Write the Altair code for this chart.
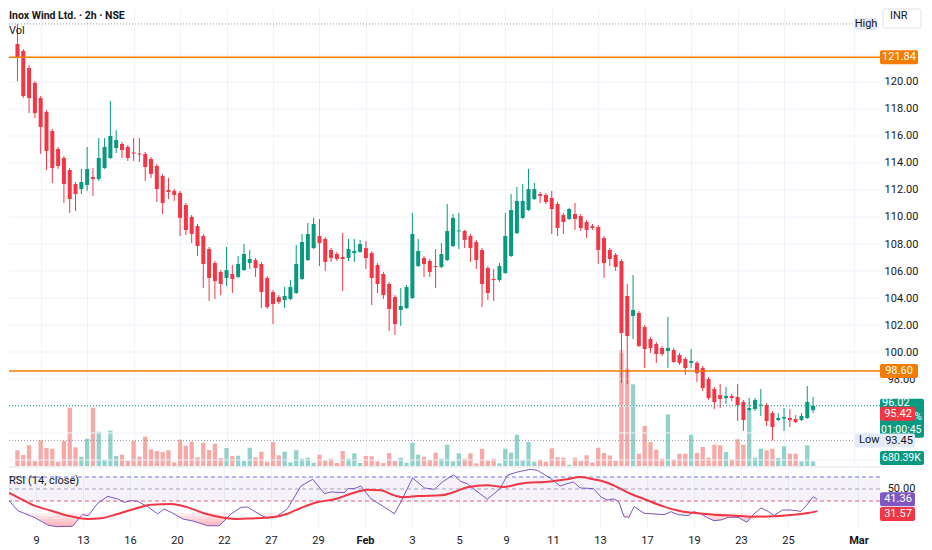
import altair as alt
import pandas as pd

# ---------------- data ----------------
candle_idx = list(range(-4, 134))  # 2h candles, 0 = 9 Jan 09:15

opens = [122.81, 122.30, 121.04, 119.93,
         118.81, 117.78, 116.37, 115.04, 114.37, 113.48, 112.44, 112.07, 112.37, 112.96,
         112.81, 113.63, 114.37, 115.11, 115.41, 115.19, 114.78, 114.70, 114.67, 114.30,
         113.78, 113.04, 112.00, 111.93, 111.78, 110.89, 110.00, 109.33, 108.59, 107.63,
         106.59, 105.93, 105.48, 105.78, 105.56, 106.07, 106.59, 106.81, 106.52, 105.48,
         104.44, 104.07, 103.85, 103.93, 104.37, 105.41, 106.81, 107.70, 108.59, 108.37,
         107.56, 107.26, 107.04, 106.96, 107.33, 107.41, 107.70, 107.33, 106.44, 105.78,
         105.04, 104.07, 103.11, 103.26, 104.00, 106.37, 106.96, 106.74, 106.37, 106.30,
         106.81, 107.85, 108.93, 108.96, 108.59, 108.15, 107.56, 106.22, 105.41, 105.33,
         105.85, 107.11, 108.81, 109.93, 110.52, 111.33, 111.70, 111.63, 111.41, 110.96,
         110.15, 109.85, 110.22, 110.07, 109.63, 109.33, 109.26, 108.44, 107.56, 107.19,
         106.74, 104.15, 102.67, 102.89, 101.85, 100.96, 100.59, 100.30, 100.07, 100.15,
         99.78, 99.48, 99.19, 99.19, 98.81, 98.00, 97.26, 96.81, 96.59, 96.74,
         96.67, 96.30, 95.70, 95.78, 96.04, 96.07, 95.48, 94.96, 95.07, 95.11,
         95.04, 94.96, 95.11, 95.70]

highs = [124.30, 122.44, 121.26, 120.07,
         118.96, 117.93, 116.52, 115.19, 114.52, 113.63, 112.59, 113.56, 115.19, 113.63,
         115.85, 115.85, 118.59, 116.44, 115.56, 115.33, 115.85, 115.85, 114.81, 114.44,
         113.93, 113.19, 112.89, 112.07, 111.93, 111.04, 110.15, 109.48, 108.74, 107.78,
         106.74, 106.07, 107.78, 106.44, 107.11, 108.00, 107.56, 106.96, 106.67, 105.63,
         104.59, 104.22, 104.81, 105.33, 107.93, 108.74, 109.56, 109.93, 109.85, 108.52,
         107.70, 107.41, 108.81, 108.37, 108.37, 108.30, 108.22, 107.48, 106.59, 105.93,
         105.19, 104.22, 104.74, 104.96, 110.30, 108.37, 107.11, 106.89, 107.63, 108.07,
         110.96, 110.22, 110.30, 109.04, 108.74, 108.30, 107.70, 106.37, 106.15, 106.59,
         110.30, 111.70, 112.22, 112.44, 113.56, 112.52, 111.85, 111.78, 111.93, 111.11,
         110.30, 110.67, 111.04, 110.22, 109.78, 109.48, 109.41, 108.59, 107.70, 107.33,
         106.89, 105.04, 105.70, 103.04, 102.00, 101.11, 100.74, 100.44, 102.59, 100.30,
         99.93, 99.63, 100.22, 99.33, 98.96, 98.15, 97.41, 97.63, 97.41, 96.89,
         97.63, 96.44, 96.59, 96.59, 97.26, 96.22, 95.63, 95.48, 95.85, 95.78,
         95.33, 95.48, 97.48, 96.67]

lows = [120.07, 118.81, 117.70, 117.33,
        114.67, 113.48, 112.52, 113.56, 111.04, 110.30, 110.44, 111.70, 111.93, 111.56,
        112.67, 113.56, 114.30, 114.74, 114.37, 114.15, 114.15, 114.07, 112.67, 112.89,
        111.11, 110.22, 111.33, 111.19, 108.59, 108.67, 108.07, 107.11, 104.74, 103.78,
        103.93, 104.22, 104.89, 104.37, 105.48, 106.00, 106.15, 105.56, 103.26, 103.19,
        102.07, 103.56, 103.26, 103.85, 104.30, 105.33, 106.74, 107.63, 106.37, 106.00,
        106.67, 106.74, 104.52, 106.74, 106.67, 107.33, 106.15, 103.48, 104.37, 103.93,
        101.56, 101.26, 101.93, 103.19, 103.93, 106.30, 105.56, 105.56, 104.74, 106.22,
        106.74, 107.78, 107.63, 107.70, 106.67, 106.15, 103.33, 103.85, 103.78, 105.19,
        105.78, 107.04, 108.74, 109.85, 110.44, 111.26, 111.04, 110.96, 108.74, 108.59,
        108.74, 109.78, 109.04, 108.96, 108.44, 109.04, 106.52, 105.48, 106.37, 106.00,
        97.70, 97.63, 100.96, 100.37, 98.81, 99.93, 99.19, 99.70, 98.81, 99.19,
        99.04, 98.30, 98.81, 97.78, 97.11, 96.44, 95.78, 95.85, 96.15, 96.37,
        94.89, 94.15, 95.63, 95.63, 95.26, 94.52, 93.45, 94.89, 94.15, 94.44,
        94.74, 94.89, 95.04, 95.48]

closes = [121.78, 118.96, 118.81, 117.70,
          116.67, 114.89, 113.63, 113.78, 112.44, 111.33, 111.70, 112.59, 113.56, 112.81,
          114.37, 115.19, 116.00, 115.70, 114.96, 114.37, 114.70, 114.63, 113.70, 113.19,
          112.07, 111.04, 111.85, 111.63, 109.93, 109.04, 108.74, 107.85, 106.52, 105.48,
          105.26, 105.04, 106.07, 105.41, 106.52, 107.26, 106.89, 106.22, 104.44, 103.33,
          103.56, 103.70, 104.15, 104.81, 106.52, 108.15, 108.74, 109.48, 108.07, 106.67,
          106.96, 106.89, 106.89, 107.63, 107.48, 108.00, 106.96, 105.48, 105.04, 104.22,
          103.19, 102.07, 103.41, 104.81, 108.74, 107.48, 106.52, 105.93, 106.30, 107.26,
          108.96, 109.93, 109.00, 108.30, 107.70, 106.81, 105.04, 104.37, 105.33, 106.37,
          108.59, 110.52, 111.19, 111.19, 112.07, 112.07, 111.56, 111.11, 110.59, 109.19,
          109.63, 110.59, 109.85, 109.19, 109.04, 109.19, 107.56, 106.59, 106.89, 106.30,
          101.41, 101.19, 103.11, 100.44, 100.22, 100.30, 99.85, 99.85, 100.30, 99.26,
          99.19, 98.81, 99.33, 98.44, 97.33, 96.59, 96.30, 96.52, 96.74, 96.59,
          96.07, 94.96, 95.85, 96.44, 96.11, 94.89, 94.44, 95.11, 95.19, 94.96,
          94.81, 95.26, 96.30, 96.02]

volumes_k = [2355, 1650, 3105, 750,
             3855, 2700, 2595, 645, 3750, 8745, 2805, 1395, 4095, 8745,
             5145, 945, 5295, 1500, 1695, 750, 3750, 1395, 4395, 2505,
             2250, 2100, 2355, 555, 3945, 3045, 3645, 1305, 3495, 2400,
             3345, 1200, 2700, 1500, 1545, 750, 2745, 1305, 2145, 645,
             3600, 1605, 2145, 555, 2355, 1095, 1245, 495, 1695, 795,
             1095, 450, 2250, 1095, 1905, 450, 1500, 1455, 705, 450,
             1950, 750, 1245, 495, 3495, 1695, 1395, 945, 1995, 1095,
             3195, 705, 1905, 1095, 1905, 405, 2595, 795, 1095, 405,
             2595, 1995, 4695, 855, 3600, 645, 945, 645, 2655, 1305,
             1245, 195, 1245, 750, 1605, 555, 2745, 1950, 1575, 750,
             17355, 14595, 12255, 1845, 6000, 3600, 2445, 1095, 7755, 1005,
             1845, 1845, 4695, 1950, 2850, 1245, 3195, 3105, 2100, 1005,
             4005, 3195, 8355, 1245, 2595, 2355, 2595, 1200, 2955, 1845,
             1845, 705, 3105, 680.39]

tick_idx = [0, 8, 16, 24, 32, 40, 48, 56, 64, 72, 80, 88, 96, 104, 112, 120, 128, 140]
tick_lbl = ["9", "13", "16", "20", "22", "27", "29", "Feb", "3", "5", "9", "11", "13",
            "17", "19", "23", "25", "Mar"]
bold_ticks = [56, 140]
price_grid = [92, 94, 96, 98, 100, 102, 104, 106, 108, 110, 112, 114, 116, 118, 120, 122]
price_labels = [98, 100, 102, 104, 106, 108, 110, 112, 114, 116, 118, 120]

rsi_idx = [-6, -5.1, -3.1, -0.3, 2.0, 3.4, 6.2, 7.9, 8.9, 10.5, 12.2, 13.9, 15.0, 16.2, 17.3,
           19.0, 20.7, 21.8, 23.0, 25.0, 26.9, 29.2, 31.2, 33.2, 34.9, 36.0, 38.3, 39.4, 41.1,
           42.8, 45.1, 47.1, 49.1, 50.2, 52.5, 53.1, 54.2, 55.3, 57.0, 59.3, 61.0, 62.1, 64.1,
           66.1, 67.8, 69.2, 71.1, 72.3, 73.4, 76.8, 79.0, 80.2, 81.9, 84.1, 85.3, 87.5, 89.2,
           90.4, 91.5, 92.6, 94.9, 96.2, 97.3, 98.4, 99.2, 100.1, 100.9, 101.8, 103.5, 105.2,
           106.9, 108.1, 109.3, 111.0, 112.0, 113.2, 114.4, 115.4, 116.6, 117.8, 119.5, 121.0,
           122.2, 123.4, 124.6, 125.6, 127.1, 128.5, 130.2, 131.1, 132.3, 133.0]
rsi_val = [41.7, 43.1, 31.9, 26.4, 20.0, 18.6, 18.9, 28.6, 27.8, 38.1, 43.9, 41.7, 38.9, 40.3,
           39.7, 35.3, 29.2, 33.3, 30.6, 25.0, 23.1, 19.4, 19.4, 29.2, 34.7, 35.0, 28.1, 25.8,
           27.5, 33.6, 52.5, 58.1, 46.1, 47.5, 47.0, 50.3, 50.3, 52.5, 41.9, 35.0, 29.4, 39.2,
           59.2, 50.9, 49.7, 55.9, 61.9, 56.3, 54.4, 41.4, 50.3, 61.4, 64.1, 66.4, 65.6, 59.2,
           52.5, 54.4, 55.9, 50.9, 50.3, 43.1, 40.8, 41.7, 39.2, 26.9, 26.4, 35.3, 29.8, 29.2,
           28.6, 31.1, 28.6, 27.8, 31.1, 29.2, 25.8, 23.6, 24.2, 26.4, 26.4, 22.3, 29.2, 34.2,
           31.4, 27.8, 32.5, 32.5, 31.4, 36.1, 43.6, 41.36]

ma_idx = [-6, -3.1, -0.3, 2.6, 5.4, 8.8, 11.1, 13.9, 16.7, 19.6, 23.0, 25.8, 28.6, 31.5, 33.8,
          36.5, 40.6, 42.8, 45.1, 48.0, 50.8, 53.6, 56.5, 58.7, 61.0, 62.7, 65.0, 68.9, 71.2,
          73.4, 76.8, 79.6, 82.4, 87.5, 90.4, 92.6, 94.9, 96.2, 98.4, 101.3, 103.5, 106.9,
          109.8, 112.6, 115.5, 118.9, 121.7, 125.7, 129.1, 131.4, 133.0]
ma_val = [50.0, 43.1, 36.1, 31.9, 27.8, 25.0, 25.6, 29.2, 33.3, 36.9, 37.5, 34.7, 29.8, 26.4,
          25.0, 25.5, 26.7, 29.4, 34.2, 39.2, 41.4, 46.1, 49.4, 48.9, 44.7, 43.1, 44.2, 44.7,
          47.5, 51.5, 53.1, 51.7, 54.4, 56.3, 58.1, 60.0, 58.1, 56.9, 52.8, 45.8, 41.7, 35.3,
          31.4, 29.8, 28.6, 27.8, 26.9, 27.2, 28.6, 30.0, 31.57]

level_lines = [121.84, 98.60]
session_high = 124.30
session_low = 93.45
last_close = 96.02
ref_price = 95.42
last_volume_k = 680.39
change_txt = "2.14%"
countdown_txt = "01:00:45"
rsi_bands = [60, 50, 40]
rsi_axis_labels = [50]
rsi_last = 41.36
ma_last = 31.57

TITLE = "Inox Wind Ltd. · 2h · NSE"

# ---------------- layout / style ----------------
W, HP, HR = 871, 457, 62
XD = [-4.596, 143.66]
PD = [91.556, 125.407]
VD = [0, 68550]
RD = [16.67, 68.33]
PXP = HP / (PD[1] - PD[0])
PXR = HR / (RD[1] - RD[0])

FONT = "Roboto"
TXT = "#131722"
GRID = "#f0f3fa"
UP, DOWN = "#089981", "#F23645"
VUP, VDOWN = "#92d2cc", "#f7a9a7"
ORANGE = "#f57c00"
PURPLE = "#7E57C2"
LIGHTBOX = "#e3ebf7"

n = min(map(len, [candle_idx, opens, highs, lows, closes, volumes_k]))
cdf = pd.DataFrame({"i": candle_idx[:n], "o": opens[:n], "h": highs[:n],
                    "l": lows[:n], "c": closes[:n], "v": volumes_k[:n]})

xscale = alt.Scale(domain=XD, nice=False, zero=False)
x_grid_axis = alt.Axis(values=tick_idx, labels=False, ticks=False, domain=False, grid=True,
                       gridColor=GRID, title=None, minExtent=0, maxExtent=0)
XP = alt.X("i:Q", scale=xscale, axis=x_grid_axis)

pscale = alt.Scale(domain=PD, nice=False, zero=False)
paxis = alt.Axis(orient="right", values=price_labels, format=".2f", labelAlign="center",
                 labelPadding=21, labelBaseline="middle", ticks=False, domain=False, grid=False,
                 labelColor=TXT, labelFont=FONT, labelFontSize=11,
                 labelOverlap=False, labelFlush=False, title=None)


def PY(f):
    return alt.Y(f, type="quantitative", scale=pscale, axis=paxis)


def updown(a, b):
    return alt.condition("datum.c >= datum.o", alt.value(a), alt.value(b))


dummy = pd.DataFrame({"a": [0]})

hgrid = alt.Chart(pd.DataFrame({"p": price_grid})).mark_rule(
    color=GRID, strokeWidth=1).encode(y=PY("p"))

vol = alt.Chart(cdf).mark_bar(size=4.3, clip=True).encode(
    x=XP,
    y=alt.Y("v:Q", scale=alt.Scale(domain=VD, nice=False, zero=True), axis=None),
    color=updown(VUP, VDOWN))

wick = alt.Chart(cdf).mark_rule(strokeWidth=1, clip=True).encode(
    x=XP, y=PY("l"), y2="h", color=updown(UP, DOWN))
body = alt.Chart(cdf).mark_bar(size=4, clip=True).encode(
    x=XP, y=PY("o"), y2="c", color=updown(UP, DOWN))

lvl = alt.Chart(pd.DataFrame({"p": level_lines})).mark_rule(
    color=ORANGE, strokeWidth=1.5).encode(y=PY("p"))
close_line = alt.Chart(pd.DataFrame({"p": [last_close]})).mark_rule(
    color=UP, strokeDash=[1, 2], strokeWidth=1).encode(y=PY("p"))
hl_lines = alt.Chart(pd.DataFrame({"p": [session_high, session_low]})).mark_rule(
    color="#9598a1", strokeDash=[1, 2], strokeWidth=1).encode(
    y=PY("p"), x=alt.value(0), x2=alt.value(846))


def pbox(center, lo_px, hi_px, x0, x1, fill, stroke=None):
    d = pd.DataFrame({"y0": [center - lo_px / PXP], "y1": [center + hi_px / PXP]})
    kw = dict(fill=fill, cornerRadius=2)
    if stroke:
        kw.update(stroke=stroke, strokeWidth=1)
    return alt.Chart(d).mark_rect(**kw).encode(
        x=alt.value(x0), x2=alt.value(x1), y=PY("y0"), y2="y1")


def ptext(yv, text, x, color, align="center", size=11):
    d = pd.DataFrame({"y": [yv], "t": [text]})
    return alt.Chart(d).mark_text(font=FONT, fontSize=size, color=color, align=align,
                                  baseline="middle").encode(
        x=alt.value(x), y=PY("y"), text="t:N")


labels = []
for v in level_lines:
    labels += [pbox(v, 7, 7, 871, 909, ORANGE), ptext(v, f"{v:.2f}", 890, "white")]
labels += [pbox(last_close, 32, 7, 871, 915, UP),
           ptext(last_close + 3 / PXP, f"{last_close:.2f}", 873, "white", "left"),
           ptext(last_close - 11 / PXP, change_txt, 913, "white", "right", 10.5),
           ptext(last_close - 24.3 / PXP, countdown_txt, 872, "white", "left", 10.5)]
labels += [pbox(session_low, 7, 7, 846, 906, LIGHTBOX),
           ptext(session_low, "Low", 850, TXT, "left"),
           ptext(session_low - 0.8 / PXP, f"{session_low:.2f}", 890, TXT)]
labels += [pbox(ref_price, 7, 7, 871, 906, DOWN),
           ptext(ref_price, f"{ref_price:.2f}", 889, "white")]
labels += [pbox(session_high, 6, 6, 846, 868, LIGHTBOX),
           ptext(session_high, "High", 857, TXT)]
vol_center_px = min(HP - last_volume_k / ((VD[1] - VD[0]) / HP), HP - 8)
vol_center = PD[1] - vol_center_px / PXP
labels += [pbox(vol_center, 7, 7, 871, 915, UP),
           ptext(vol_center, f"{last_volume_k:.2f}K", 873, "white", "left", 10.5)]

inr_box = alt.Chart(dummy).mark_rect(fill="white", stroke="#e0e3eb", strokeWidth=1,
                                     cornerRadius=2).encode(
    x=alt.value(874), x2=alt.value(912), y=alt.value(0), y2=alt.value(19))
inr_txt = alt.Chart(dummy).mark_text(text="INR", font=FONT, fontSize=11, color=TXT,
                                     align="left", baseline="middle").encode(
    x=alt.value(881), y=alt.value(7))
title = alt.Chart(dummy).mark_text(text=TITLE, font=FONT, fontSize=10.5, fontWeight="bold",
                                   color=TXT, align="left", baseline="middle").encode(
    x=alt.value(0), y=alt.value(7))
vol_lbl = alt.Chart(dummy).mark_text(text="Vol", font=FONT, fontSize=11, color=TXT,
                                     align="left", baseline="middle").encode(
    x=alt.value(0), y=alt.value(22))

price_main = alt.layer(hgrid, wick, body, lvl, close_line, hl_lines, *labels, inr_box,
                       inr_txt, title, vol_lbl)
price = alt.layer(vol, price_main).resolve_scale(y="independent").properties(width=W, height=HP)

# ---------------- RSI pane ----------------
rscale = alt.Scale(domain=RD, nice=False, zero=False)
raxis = alt.Axis(orient="right", values=rsi_axis_labels, format=".2f",
                 labelAlign="center", labelPadding=21, ticks=False, domain=False, grid=False,
                 labelColor=TXT, labelFont=FONT, labelFontSize=11, labelOverlap=False,
                 labelFlush=False, title=None)


def RY(f):
    return alt.Y(f, type="quantitative", scale=rscale, axis=raxis)


label_expr = ""
for v, t in zip(tick_idx, tick_lbl):
    label_expr += f"datum.value == {v} ? '{t}' : "
label_expr += "''"
bold_test = " || ".join(f"datum.value == {v}" for v in bold_ticks)
xaxis_r = alt.Axis(values=tick_idx, labelExpr=label_expr,
                   labelFontWeight={"condition": {"test": bold_test, "value": "bold"},
                                    "value": "normal"},
                   grid=True, gridColor=GRID, ticks=False, domain=False, labelPadding=5,
                   labelFontSize=11, labelColor=TXT, labelFont=FONT, labelOverlap=False,
                   labelFlush=False, labelBound=False, title=None)
XR = alt.X("x:Q", scale=xscale, axis=xaxis_r)

rdf = pd.DataFrame({"x": rsi_idx, "r": rsi_val})
mdf = pd.DataFrame({"x": ma_idx, "r": ma_val})


def below(xs, ys, thr):
    px, py = [], []
    for k in range(len(xs)):
        if k > 0:
            y0, y1 = ys[k - 1], ys[k]
            if (y0 - thr) * (y1 - thr) < 0:
                t = (thr - y0) / (y1 - y0)
                px.append(xs[k - 1] + t * (xs[k] - xs[k - 1]))
                py.append(thr)
        px.append(xs[k])
        py.append(min(ys[k], thr))
    return px, py


fill_rows = []
for kk, thr in enumerate([30, 27.5, 25, 22.5, 20, 17.5]):
    fx, fy = below(rsi_idx, rsi_val, thr)
    for a, b in zip(fx, fy):
        fill_rows.append({"x": a, "r": b, "t": thr, "k": kk})
fdf = pd.DataFrame(fill_rows)

band = alt.Chart(pd.DataFrame({"a": [rsi_bands[0]], "b": [rsi_bands[2]]})).mark_rect(
    color=PURPLE, opacity=0.08).encode(x=alt.value(0), x2=alt.value(W), y=RY("a"), y2="b")
dashes = alt.Chart(pd.DataFrame({"r": rsi_bands,
                                 "col": ["#6f79ee", "#a6a2bd", "#e0607e"]})).mark_rule(
    strokeDash=[4, 3], strokeWidth=1).encode(y=RY("r"), color=alt.Color("col:N", scale=None))
fills = alt.Chart(fdf).mark_area(color=DOWN, opacity=0.09, clip=True).encode(
    x=XR, y=RY("r"), y2="t", detail="k:N")
rsi_line = alt.Chart(rdf).mark_line(color=PURPLE, strokeWidth=1, clip=True).encode(
    x=XR, y=RY("r"))
ma_line = alt.Chart(mdf).mark_line(color=DOWN, strokeWidth=2, clip=True,
                                   interpolate="monotone").encode(x=XR, y=RY("r"))
sep = alt.Chart(dummy).mark_rule(color="#e0e3eb", strokeWidth=1).encode(
    x=alt.value(0), x2=alt.value(W), y=alt.value(0))
rsi_title = alt.Chart(dummy).mark_text(text="RSI (14, close)", font=FONT, fontSize=11,
                                       color=TXT, align="left", baseline="middle").encode(
    x=alt.value(0), y=alt.value(14))


def rbox(center, fill, shift_px=0):
    c = center - shift_px / PXR
    d = pd.DataFrame({"y0": [c - 7 / PXR], "y1": [c + 7 / PXR], "yc": [c],
                      "t": [f"{center:.2f}"]})
    r = alt.Chart(d).mark_rect(fill=fill, cornerRadius=2).encode(
        x=alt.value(871), x2=alt.value(906), y=RY("y0"), y2="y1")
    t = alt.Chart(d).mark_text(font=FONT, fontSize=11, color="white", align="center",
                               baseline="middle").encode(
        x=alt.value(889), y=RY("yc"), text="t:N")
    return [r, t]


rsi_chart = alt.layer(band, dashes, fills, rsi_line, ma_line, sep, rsi_title,
                      *rbox(rsi_last, PURPLE), *rbox(ma_last, DOWN, 3)).properties(
    width=W, height=HR)

chart = alt.vconcat(price, rsi_chart, spacing=0).properties(
    padding=0, background="white").configure_view(stroke=None)

chart.save("out.html", embed_options={"renderer": "svg", "actions": False})
